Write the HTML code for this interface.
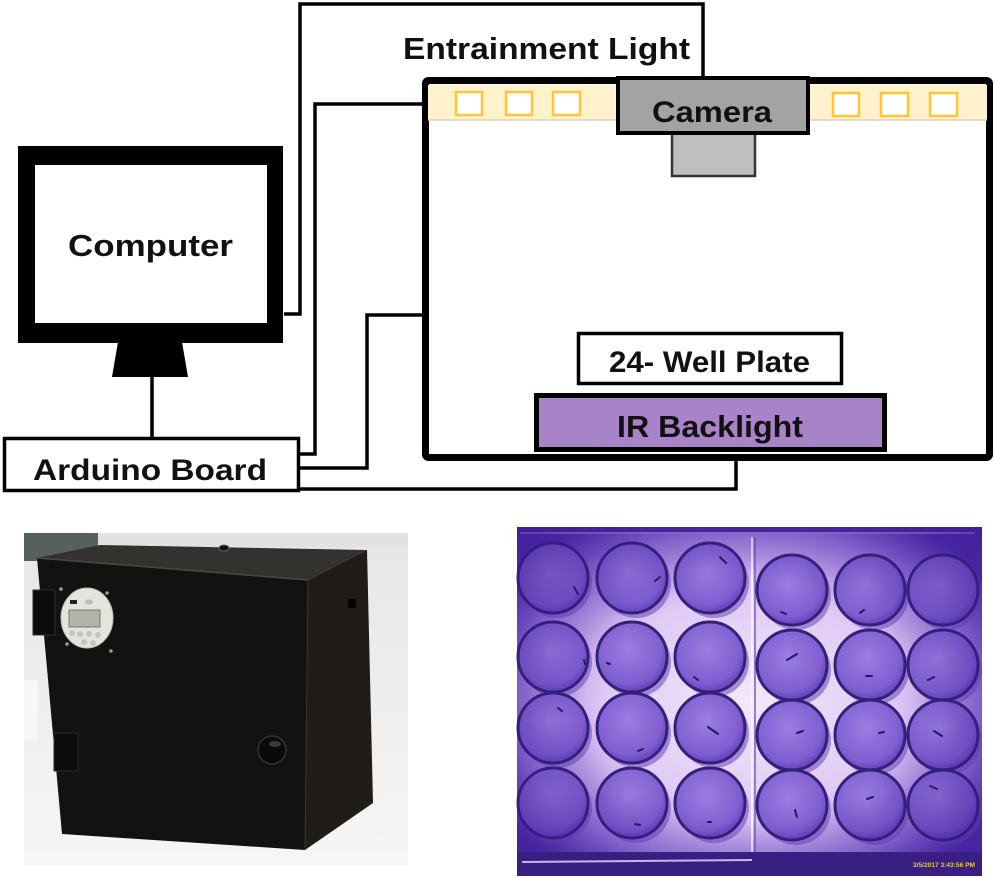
<!DOCTYPE html>
<html>
<head>
<meta charset="utf-8">
<style>
  html,body{margin:0;padding:0;background:#fff;}
  svg{display:block;}
  text{font-family:"Liberation Sans",Arial,sans-serif;font-weight:bold;fill:#111;}
</style>
</head>
<body>
<svg width="994" height="877" viewBox="0 0 994 877" xmlns="http://www.w3.org/2000/svg">
  <defs>
    <radialGradient id="plateBg" cx="0.5" cy="0.5" r="0.62">
      <stop offset="0" stop-color="#f4e8fc"/>
      <stop offset="0.5" stop-color="#e0caf5"/>
      <stop offset="0.8" stop-color="#9c7ade"/>
      <stop offset="1" stop-color="#5530b2"/>
    </radialGradient>
    <radialGradient id="wellG" cx="0.45" cy="0.4" r="0.6">
      <stop offset="0" stop-color="#9b7ee2"/>
      <stop offset="0.8" stop-color="#7f5ed0"/>
      <stop offset="1" stop-color="#6442bc"/>
    </radialGradient>
    <radialGradient id="vign" cx="0.5" cy="0.5" r="0.7">
      <stop offset="0.5" stop-color="#3a1890" stop-opacity="0"/>
      <stop offset="1" stop-color="#3a1890" stop-opacity="0.65"/>
    </radialGradient>
    <linearGradient id="tableG" x1="0" y1="0" x2="0" y2="1">
      <stop offset="0" stop-color="#e6e6e6"/>
      <stop offset="1" stop-color="#f6f6f6"/>
    </linearGradient>
  </defs>

  <!-- ================= DIAGRAM ================= -->
  <g fill="none" stroke="#000" stroke-width="3.5" stroke-linejoin="miter">
    <polyline points="284,314 300,314 300,4 703,4 703,80"/>
    <polyline points="300,454 315,454 315,104 426,104"/>
    <polyline points="300,468 367,468 367,315 426,315"/>
    <polyline points="300,489 736,489 736,452"/>
    <line x1="152" y1="376" x2="152" y2="438"/>
  </g>

  <rect x="18" y="146" width="265" height="197" fill="#000"/>
  <rect x="35" y="165" width="232" height="158" fill="#fff"/>
  <polygon points="118,342 182,342 188,377 112,377" fill="#000"/>
  <text x="68" y="256" font-size="31" textLength="165" lengthAdjust="spacingAndGlyphs">Computer</text>

  <rect x="4.5" y="438.5" width="294" height="52" fill="#fff" stroke="#000" stroke-width="3.5"/>
  <text x="33" y="480" font-size="30" textLength="234" lengthAdjust="spacingAndGlyphs">Arduino Board</text>

  <rect x="425.5" y="80.5" width="564" height="377" rx="3" fill="#fff" stroke="#000" stroke-width="7"/>

  <rect x="428" y="85" width="188" height="35" fill="#fff2cc"/>
  <rect x="810" y="85" width="177" height="35" fill="#fff2cc"/>
  <line x1="428" y1="120" x2="616" y2="120" stroke="#d9d2bf" stroke-width="1.5"/>
  <line x1="810" y1="120" x2="987" y2="120" stroke="#d9d2bf" stroke-width="1.5"/>
  <g fill="#fff" stroke="#ffc533" stroke-width="2.5">
    <rect x="456" y="92" width="26" height="23"/>
    <rect x="506" y="92" width="26" height="23"/>
    <rect x="553" y="92" width="27" height="23"/>
    <rect x="833" y="93" width="26" height="23"/>
    <rect x="881" y="93" width="27" height="23"/>
    <rect x="930" y="93" width="27" height="23"/>
  </g>

  <rect x="672" y="133" width="83" height="43" fill="#bfbfbf" stroke="#333" stroke-width="2.5"/>
  <rect x="618" y="78" width="190" height="55" fill="#a3a3a3" stroke="#000" stroke-width="4"/>
  <text x="652" y="122" font-size="30" textLength="120" lengthAdjust="spacingAndGlyphs">Camera</text>

  <text x="403" y="59" font-size="31" textLength="287" lengthAdjust="spacingAndGlyphs">Entrainment Light</text>

  <rect x="578.5" y="333.5" width="263" height="50" fill="#fff" stroke="#000" stroke-width="3.5"/>
  <text x="609" y="372" font-size="30" textLength="201" lengthAdjust="spacingAndGlyphs">24- Well Plate</text>
  <rect x="536.5" y="395.5" width="348" height="54" fill="#a983c9" stroke="#000" stroke-width="5"/>
  <text x="617" y="437" font-size="31" textLength="186" lengthAdjust="spacingAndGlyphs">IR Backlight</text>

  <!-- ================= BOX PHOTO ================= -->
  <rect x="24" y="533" width="384" height="332" fill="url(#tableG)"/>
  <rect x="24" y="533" width="74" height="28" fill="#56605f"/>
  <rect x="98" y="533" width="310" height="14" fill="#e2e2e2"/>
  <rect x="24" y="680" width="14" height="60" fill="#f7f7f7"/>
  <polygon points="37,558 100,545 367,550 308,580" fill="#34322f"/>
  <polygon points="308,580 367,550 373,803 305,850" fill="#1f1c1a"/>
  <polygon points="37,558 308,580 305,850 62,834" fill="#141210"/>
  <line x1="37" y1="558" x2="308" y2="580" stroke="#4a4744" stroke-width="1.5"/>
  <line x1="308" y1="580" x2="305" y2="850" stroke="#3a3735" stroke-width="1"/>
  <ellipse cx="224" cy="548" rx="5" ry="3" fill="#111" stroke="#666" stroke-width="1"/>
  <rect x="33" y="590" width="22" height="45" fill="#0c0b0a" stroke="#2e2c2a" stroke-width="1"/>
  <rect x="54" y="733" width="24" height="38" fill="#0c0b0a" stroke="#2e2c2a" stroke-width="1"/>
  <g fill="#9a9a9a">
    <circle cx="61" cy="589" r="1.8"/><circle cx="107" cy="593" r="1.8"/>
    <circle cx="67" cy="644" r="1.8"/><circle cx="111" cy="651" r="1.8"/>
  </g>
  <ellipse cx="87" cy="618" rx="26" ry="30" fill="#e4e4dc" stroke="#bbb" stroke-width="1"/>
  <rect x="69" y="610" width="31" height="17" fill="#b2b5a6" stroke="#777" stroke-width="1"/>
  <rect x="70" y="600" width="7" height="4" fill="#222"/>
  <ellipse cx="89" cy="602" rx="4" ry="2.5" fill="#bbb"/>
  <g fill="#c4c4c4">
    <circle cx="72" cy="633" r="3"/><circle cx="80" cy="634" r="3"/><circle cx="89" cy="634" r="3"/><circle cx="98" cy="635" r="3"/>
    <circle cx="84" cy="642" r="3"/><circle cx="93" cy="643" r="3"/>
  </g>
  <rect x="348" y="599" width="8" height="9" fill="#050505"/>
  <circle cx="272" cy="750" r="14" fill="#0a0a0a" stroke="#333" stroke-width="1.5"/>
  <ellipse cx="275" cy="744" rx="6" ry="3" fill="#3a3a3a"/>

  <!-- ================= PLATE PHOTO ================= -->
  <rect x="517" y="527" width="465" height="349" fill="url(#plateBg)"/>
  <rect x="517" y="527" width="465" height="7" fill="#4c2aa0"/>
  <line x1="520" y1="533" x2="975" y2="533" stroke="#b9a2ea" stroke-width="1.5"/>
  <line x1="752" y1="537" x2="752" y2="858" stroke="#f6efff" stroke-width="2"/>
  <line x1="755" y1="537" x2="755" y2="858" stroke="#7b5cc8" stroke-width="1.5"/>

  <g fill="#7452c2" opacity="0.6">
    <circle cx="557" cy="583" r="35"/><circle cx="636" cy="583" r="35"/><circle cx="714" cy="583" r="35"/>
    <circle cx="557" cy="662" r="35"/><circle cx="636" cy="662" r="35"/><circle cx="714" cy="662" r="35"/>
    <circle cx="557" cy="733" r="35"/><circle cx="636" cy="733" r="35"/><circle cx="714" cy="733" r="35"/>
    <circle cx="557" cy="808" r="35"/><circle cx="636" cy="808" r="35"/><circle cx="714" cy="808" r="35"/>
    <circle cx="796" cy="595" r="35"/><circle cx="874" cy="595" r="35"/><circle cx="947" cy="595" r="35"/>
    <circle cx="796" cy="670" r="35"/><circle cx="874" cy="670" r="35"/><circle cx="947" cy="670" r="35"/>
    <circle cx="796" cy="740" r="35"/><circle cx="874" cy="740" r="35"/><circle cx="947" cy="740" r="35"/>
    <circle cx="796" cy="810" r="35"/><circle cx="874" cy="810" r="35"/><circle cx="947" cy="810" r="35"/>
  </g>
  <g fill="url(#wellG)" stroke="#34207a" stroke-width="3">
    <circle cx="553" cy="578" r="35"/><circle cx="632" cy="578" r="35"/><circle cx="710" cy="578" r="35"/>
    <circle cx="553" cy="657" r="35"/><circle cx="632" cy="657" r="35"/><circle cx="710" cy="657" r="35"/>
    <circle cx="553" cy="728" r="35"/><circle cx="632" cy="728" r="35"/><circle cx="710" cy="728" r="35"/>
    <circle cx="553" cy="803" r="35"/><circle cx="632" cy="803" r="35"/><circle cx="710" cy="803" r="35"/>
    <circle cx="792" cy="590" r="35"/><circle cx="870" cy="590" r="35"/><circle cx="943" cy="590" r="35"/>
    <circle cx="792" cy="665" r="35"/><circle cx="870" cy="665" r="35"/><circle cx="943" cy="665" r="35"/>
    <circle cx="792" cy="735" r="35"/><circle cx="870" cy="735" r="35"/><circle cx="943" cy="735" r="35"/>
    <circle cx="792" cy="805" r="35"/><circle cx="870" cy="805" r="35"/><circle cx="943" cy="805" r="35"/>
  </g>
  <g stroke="#2a1560" stroke-width="2" stroke-linecap="round">
    <line x1="574" y1="587" x2="578" y2="594"/><line x1="655" y1="581" x2="660" y2="577"/>
    <line x1="720" y1="557" x2="726" y2="563"/><line x1="781" y1="612" x2="786" y2="614"/>
    <line x1="860" y1="613" x2="864" y2="610"/><line x1="584" y1="660" x2="585" y2="664"/>
    <line x1="607" y1="663" x2="610" y2="664"/><line x1="694" y1="677" x2="698" y2="680"/>
    <line x1="787" y1="660" x2="797" y2="654"/><line x1="866" y1="676" x2="872" y2="676"/>
    <line x1="928" y1="680" x2="934" y2="677"/><line x1="558" y1="708" x2="562" y2="711"/>
    <line x1="638" y1="751" x2="643" y2="749"/><line x1="708" y1="727" x2="718" y2="734"/>
    <line x1="797" y1="733" x2="803" y2="731"/><line x1="879" y1="733" x2="884" y2="732"/>
    <line x1="934" y1="731" x2="942" y2="736"/><line x1="635" y1="824" x2="640" y2="825"/>
    <line x1="708" y1="822" x2="711" y2="822"/><line x1="795" y1="810" x2="797" y2="817"/>
    <line x1="867" y1="799" x2="873" y2="797"/><line x1="930" y1="786" x2="937" y2="789"/>
  </g>
  <rect x="517" y="527" width="465" height="349" fill="url(#vign)"/>
  <rect x="517" y="852" width="465" height="24" fill="#3a1f82"/>
  <line x1="522" y1="862" x2="752" y2="860" stroke="#c9b6ee" stroke-width="2"/>
  <text x="913" y="867" font-size="6.5" style="fill:#e8c832;font-weight:bold" textLength="62" lengthAdjust="spacingAndGlyphs">3/5/2017 3:43:56 PM</text>
</svg>
</body>
</html>
